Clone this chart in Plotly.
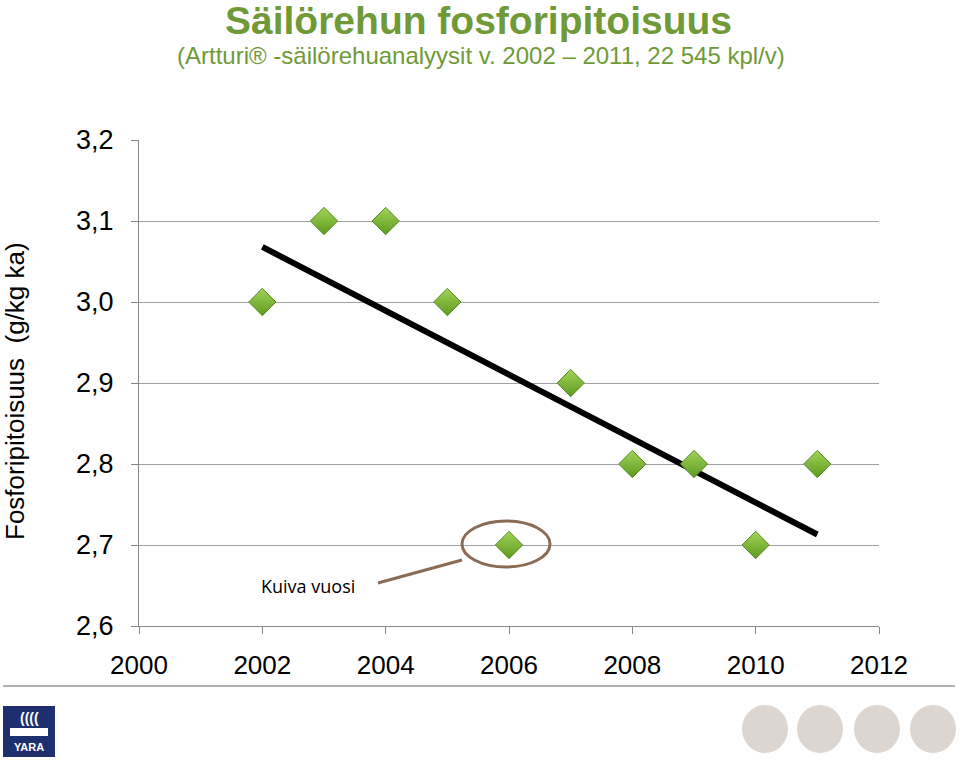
import plotly.graph_objects as go

# Data
years = [2002, 2003, 2004, 2005, 2006, 2007, 2008, 2009, 2010, 2011]
phosphorus = [3.0, 3.1, 3.1, 3.0, 2.7, 2.9, 2.8, 2.8, 2.7, 2.8]
trend_years = [2002, 2011]
trend_values = [3.068, 2.713]
x_ticks = [2000, 2002, 2004, 2006, 2008, 2010, 2012]
y_ticks = [2.6, 2.7, 2.8, 2.9, 3.0, 3.1, 3.2]
y_tick_labels = ["2,6", "2,7", "2,8", "2,9", "3,0", "3,1", "3,2"]

W, H = 960, 762
L, R, T, B = 139, 879, 140, 626


def px(x):
    return (x - L) / (R - L)


def py(y):
    return (B - y) / (B - T)


fig = go.Figure()
fig.add_trace(go.Scatter(
    x=trend_years, y=trend_values, mode="lines",
    line=dict(color="black", width=6), hoverinfo="skip", showlegend=False))
fig.add_trace(go.Scatter(
    x=years, y=phosphorus, mode="markers",
    marker=dict(symbol="diamond", size=21, color="#a2d458",
                gradient=dict(type="vertical", color="#5c9a1e"),
                line=dict(color="#5a8a25", width=1)),
    showlegend=False))

green = "#6f9a37"
annotations = [
    dict(text="<b>Säilörehun fosforipitoisuus</b>", x=px(478), y=py(21), xref="paper", yref="paper",
         showarrow=False, font=dict(family="Liberation Sans", size=39, color=green), xanchor="center", yanchor="middle"),
    dict(text="(Artturi® -säilörehuanalyysit v. 2002 – 2011, 22 545 kpl/v)", x=px(481), y=py(56), xref="paper", yref="paper",
         showarrow=False, font=dict(family="Liberation Sans", size=24, color=green), xanchor="center", yanchor="middle"),
    dict(text="Fosforipitoisuus  (g/kg ka)", x=px(15), y=py(391), xref="paper", yref="paper", textangle=-90,
         showarrow=False, font=dict(family="Liberation Sans", size=26, color="black"), xanchor="center", yanchor="middle"),
    dict(text="Kuiva vuosi", x=px(308), y=py(586), xref="paper", yref="paper",
         showarrow=False, font=dict(family="Open Sans", size=18, color="black"), xanchor="center", yanchor="middle"),
    dict(text="<b>YARA</b>", x=px(29), y=py(747), xref="paper", yref="paper",
         showarrow=False, font=dict(family="Liberation Sans", size=11, color="white"), xanchor="center", yanchor="middle"),
    dict(text="<b>((((</b>", x=px(29), y=py(718), xref="paper", yref="paper",
         showarrow=False, font=dict(family="Liberation Sans", size=14, color="white"), xanchor="center", yanchor="middle"),
]

shapes = [
    dict(type="line", xref="paper", yref="paper", x0=px(378), y0=py(583), x1=px(462), y1=py(560),
         line=dict(color="#8b6b54", width=3)),
    dict(type="circle", xref="paper", yref="paper", x0=px(462), y0=py(521), x1=px(550), y1=py(567),
         line=dict(color="#8b6b54", width=3)),
    dict(type="line", xref="paper", yref="paper", x0=px(3), y0=py(686), x1=px(955), y1=py(686),
         line=dict(color="#b0b0b0", width=2)),
    dict(type="rect", xref="paper", yref="paper", x0=px(3), y0=py(706), x1=px(55), y1=py(757),
         fillcolor="#1d2f6f", line=dict(width=0)),
    dict(type="rect", xref="paper", yref="paper", x0=px(10), y0=py(728), x1=px(48), y1=py(736),
         fillcolor="white", line=dict(width=0)),
]
for cx in [765, 820, 877, 933]:
    shapes.append(dict(type="circle", xref="paper", yref="paper", x0=px(cx - 23), y0=py(705), x1=px(cx + 23), y1=py(753),
                       fillcolor="#ddd6d0", line=dict(width=0), layer="below"))

fig.update_layout(
    width=W, height=H,
    margin=dict(l=L, r=W - R, t=T, b=H - B),
    paper_bgcolor="white", plot_bgcolor="white",
    font=dict(family="Liberation Sans", color="black"),
    annotations=annotations, shapes=shapes,
    xaxis=dict(range=[2000, 2012], tickvals=x_ticks, ticktext=[str(v) for v in x_ticks],
               ticks="outside", ticklen=7, tickcolor="#888", showline=True, linecolor="#888", linewidth=1,
               showgrid=False, zeroline=False, tickfont=dict(size=26), ticklabelstandoff=9),
    yaxis=dict(range=[2.6, 3.2], tickvals=y_ticks, ticktext=y_tick_labels,
               ticks="outside", ticklen=7, tickcolor="#888", showline=True, linecolor="#888", linewidth=1,
               showgrid=True, gridcolor="#a0a0a0", gridwidth=1, zeroline=False,
               tickfont=dict(size=27), ticklabelstandoff=12),
)

fig.write_html("out.html")
